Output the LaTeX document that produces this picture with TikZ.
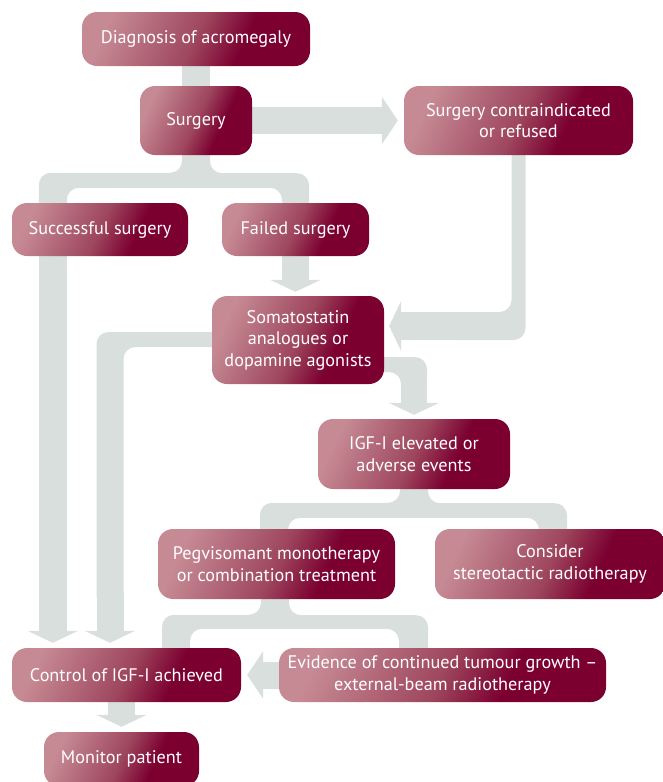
\documentclass[tikz,border=0pt]{standalone}
\usepackage{fontspec}
\setmainfont{PT Sans}
\usetikzlibrary{calc,arrows.meta,backgrounds}

\definecolor{boxlight}{RGB}{198,138,148}
\definecolor{boxmid}{RGB}{158,70,94}
\definecolor{boxdark}{RGB}{123,0,48}
\definecolor{bandgrey}{RGB}{217,223,220}
\pgfdeclarehorizontalshading{boxshade}{100bp}{color(0bp)=(boxlight); color(25bp)=(boxlight); color(50bp)=(boxmid); color(63bp)=(boxdark); color(100bp)=(boxdark)}

\begin{document}
\begin{tikzpicture}[x=1pt, y=-1pt,
	box/.style={rounded corners=15pt, shade, shading=boxshade, shading angle=-25, text=white, align=center, inner sep=2pt, font=\fontsize{18.2}{21.5}\selectfont},
	band/.style={fill=bandgrey, rounded corners=12pt},
	bandline/.style={draw=bandgrey, line width=27pt},
	bighead/.style={-{Triangle[length=16pt, width=47pt]}},
	smallhead/.style={-{Triangle[length=12pt, width=50pt]}}]
\useasboundingbox (0,0) rectangle (663,782);

\node[box, minimum width=228pt, minimum height=54pt] (diag) at (196,39) {Diagnosis of acromegaly};
\node[box, minimum width=112pt, minimum height=69pt] (surg) at (196,120.5) {Surgery};
\node[box, minimum width=229pt, minimum height=69pt] (contra) at (518.5,120.5) {Surgery contraindicated\\or refused};
\node[box, minimum width=176pt, minimum height=53pt] (success) at (100,229.5) {Successful surgery};
\node[box, minimum width=147pt, minimum height=53pt] (failed) at (295.5,229.5) {Failed surgery};
\node[box, minimum width=172pt, minimum height=88pt] (soma) at (298,340) {Somatostatin\\analogues or\\dopamine agonists};
\node[box, minimum width=192pt, minimum height=70pt] (igf) at (414,454) {IGF-I elevated or\\adverse events};
\node[box, minimum width=237pt, minimum height=70pt] (peg) at (276.5,564) {Pegvisomant monotherapy\\or combination treatment};
\node[box, minimum width=230pt, minimum height=70pt] (consider) at (550,564) {Consider\\stereotactic radiotherapy};
\node[box, minimum width=229pt, minimum height=54pt] (control) at (126.5,675) {Control of IGF-I achieved};
\node[box, minimum width=327pt, minimum height=54pt] (evid) at (442.5,675) {Evidence of continued tumour growth --\\external-beam radiotherapy};
\node[box, minimum width=155pt, minimum height=54pt] (monitor) at (121.5,759) {Monitor patient};

%% Bands %%
\begin{pgfonlayer}{background}
\draw[bandline, line width=28pt] (diag.south) -- (surg.north);
\draw[bandline, bighead] (surg.east) -- ($(contra.west)+(-6,0)$);
\fill[band] ($(surg.south)+(-14,-20)$) |- ($(success.north west)+(27,-30)$) -- ($(success.north west)+(27,20)$) -- ++(28,0)
	|- ($(failed.north)+(-13.5,-15)$) -- ($(failed.north)+(-13.5,20)$) -- ++(27,0)
	|- ($(surg.south)+(14,18)$) -- ($(surg.south)+(14,-20)$) -- cycle;
\draw[bandline, line width=28pt, smallhead] ($(success.south west)+(41,0)$) -- ($(control.north west)+(41,-5)$);
\draw[bandline, smallhead] (failed.south) -- ($(failed.south |- soma.north)+(0,-4)$);

\fill[band] ($(contra.south)+(-7,-20)$) |- ($(soma.east)+(60,-28)$) -- ++(0,28) -| ($(contra.south)+(7,-20)$) -- cycle;
\draw[bandline, line width=28pt, smallhead] ($(soma.east)+(75,-14)$) -- ($(soma.east)+(5,-14)$);

\fill[band] ($(soma.east)+(-20,17)$) -| ($(igf.north)+(13,-30)$) -- ++(-26,0) |- ($(soma.east)+(-20,32)$) -- cycle;
\draw[bandline, line width=26pt, smallhead] ($(igf.north)+(0,-45)$) -- ($(igf.north)+(0,-4)$);

\fill[band] ($(soma.west)+(25,-8)$) -| ($(control.north)+(-30,-40)$) -- ++(27,0) |- ($(soma.west)+(25,7)$) -- cycle;
\draw[bandline, smallhead] ($(control.north)+(-16.5,-55)$) -- ($(control.north)+(-16.5,-5)$);

\fill[band] ($(igf.south)+(-14,-20)$) |- ($(peg.north)+(-16.5,-26)$) -- ($(peg.north)+(-16.5,20)$) -- ++(28,0)
	|- ($(consider.north)+(-11,-11)$) -- ($(consider.north)+(-11,20)$) -- ++(28,0)
	|- ($(igf.south)+(14,14)$) -- ($(igf.south)+(14,-20)$) -- cycle;

\fill[band] ($(peg.south)+(-15.5,-20)$) |- ($(control.north)+(35.5,-33)$) -- ($(control.north)+(35.5,20)$) -- ++(28,0)
	|- ($(evid.north)+(-43.5,-19)$) -- ($(evid.north)+(-43.5,20)$) -- ++(29,0)
	|- ($(peg.south)+(12.5,16)$) -- ($(peg.south)+(12.5,-20)$) -- cycle;

\draw[bandline, bighead] (evid.west) -- ($(control.east)+(6,0)$);
\draw[bandline, smallhead] (monitor.north |- control.south) -- ($(monitor.north)+(0,-5)$);
\end{pgfonlayer}
\end{tikzpicture}
\end{document}
